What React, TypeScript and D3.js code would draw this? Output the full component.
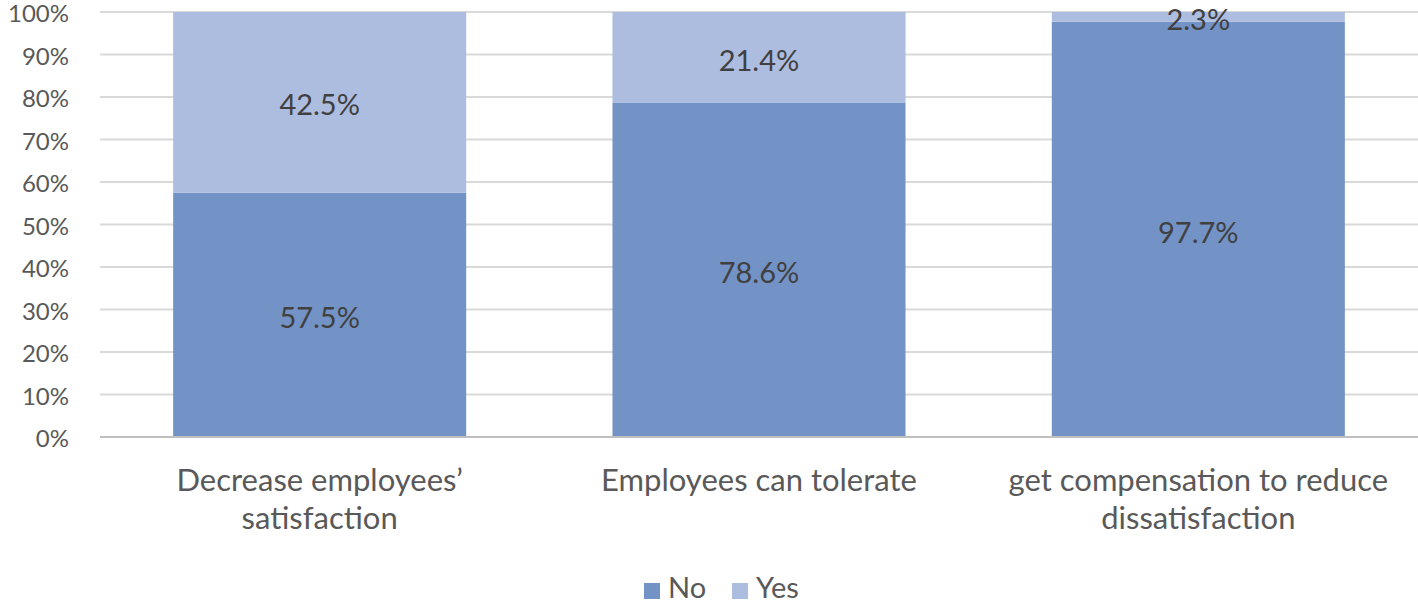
import React from "react";
import * as d3 from "d3";

const categories = [
  ["Decrease employees’", "satisfaction"],
  ["Employees can tolerate"],
  ["get compensation to reduce", "dissatisfaction"],
];
const noValues = [57.5, 78.6, 97.7];
const yesValues = [42.5, 21.4, 2.3];
const seriesNames = ["No", "Yes"];
const seriesColors = ["#7393C6", "#ADBDE0"];
const yTicks = [0, 10, 20, 30, 40, 50, 60, 70, 80, 90, 100];

const W = 1418;
const H = 602;
const FONT = "Lato, 'Open Sans', sans-serif";

export default function App() {
  const left = 100;
  const right = 1418;
  const top = 12;
  const bottom = 437;
  const x = d3
    .scaleBand<number>()
    .domain(categories.map((_, i) => i))
    .range([left, right])
    .paddingInner(0.333)
    .paddingOuter(0.1665);
  const y = d3.scaleLinear().domain([0, 100]).range([bottom, top]);

  const stackData = categories.map((_, i) => ({ No: noValues[i], Yes: yesValues[i] }));
  const stack = d3.stack<any>().keys(seriesNames)(stackData);

  return (
    <svg width={W} height={H} style={{ position: "absolute", left: 0, top: 0 }}>
      <rect width={W} height={H} fill="#fff" />
      {yTicks.map((t) => (
        <g key={t}>
          {t !== 0 && (
            <line x1={left} x2={right} y1={y(t)} y2={y(t)} stroke="#D9D9D9" strokeWidth={2} />
          )}
          <text
            x={69}
            y={y(t) + 2}
            dy="0.35em"
            textAnchor="end"
            fontFamily={FONT}
            fontSize={24}
            fill="#595959"
          >
            {t}%
          </text>
        </g>
      ))}
      {stack.map((s, si) =>
        s.map((d, i) => (
          <rect
            key={si + "-" + i}
            x={x(i)}
            width={x.bandwidth()}
            y={y(d[1])}
            height={y(d[0]) - y(d[1])}
            fill={seriesColors[si]}
          />
        ))
      )}
      <line x1={left} x2={right} y1={y(0)} y2={y(0)} stroke="#BFBFBF" strokeWidth={2} />
      {stack.map((s, si) =>
        s.map((d, i) => {
          const v = si === 0 ? noValues[i] : yesValues[i];
          const cy = (y(d[0]) + y(d[1])) / 2;
          return (
            <text
              key={"l" + si + "-" + i}
              x={(x(i) as number) + x.bandwidth() / 2}
              y={cy + 3}
              dy="0.35em"
              textAnchor="middle"
              fontFamily={FONT}
              fontSize={29}
              fill="#404040"
            >
              {v.toFixed(1)}%
            </text>
          );
        })
      )}
      {categories.map((lines, i) => (
        <text
          key={"c" + i}
          textAnchor="middle"
          fontFamily={FONT}
          fontSize={31}
          fill="#595959"
        >
          {lines.map((ln, j) => (
            <tspan key={j} x={(x(i) as number) + x.bandwidth() / 2} y={491 + j * 38}>
              {ln}
            </tspan>
          ))}
        </text>
      ))}
      {seriesNames.map((n, i) => {
        const lx = i === 0 ? 644 : 732;
        return (
          <g key={n}>
            <rect x={lx} y={583} width={16} height={16} fill={seriesColors[i]} />
            <text x={lx + 24} y={598} fontFamily={FONT} fontSize={29} fill="#595959">
              {n}
            </text>
          </g>
        );
      })}
    </svg>
  );
}
